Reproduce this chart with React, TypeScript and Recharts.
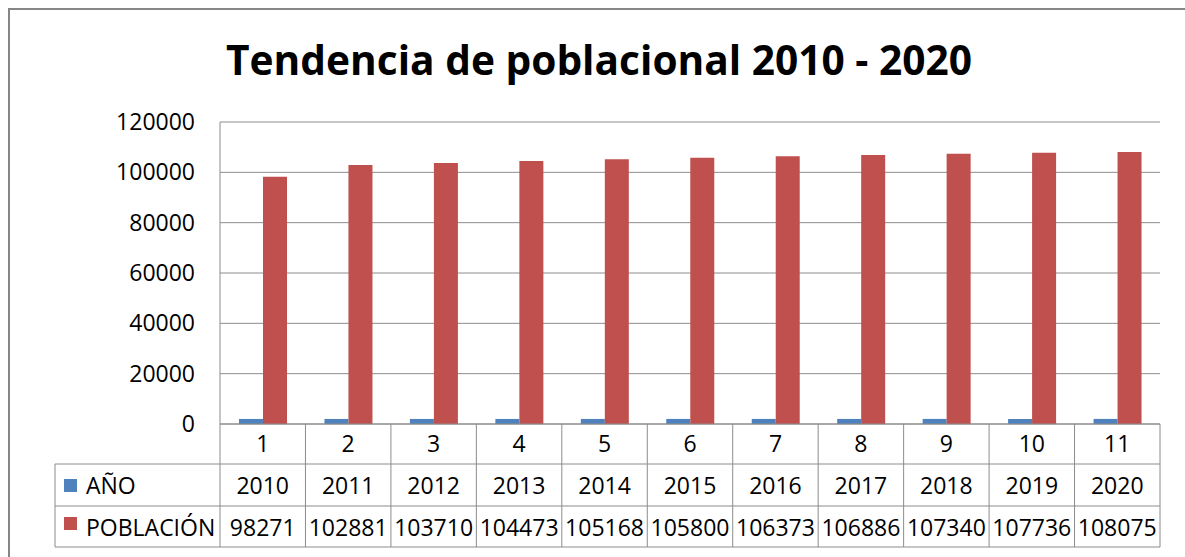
import React from 'react';
import { BarChart, Bar, XAxis, YAxis, CartesianGrid } from 'recharts';

const CATEGORIES = ['1', '2', '3', '4', '5', '6', '7', '8', '9', '10', '11'];
const ANO = [2010, 2011, 2012, 2013, 2014, 2015, 2016, 2017, 2018, 2019, 2020];
const POBLACION = [98271, 102881, 103710, 104473, 105168, 105800, 106373, 106886, 107340, 107736, 108075];
const Y_TICKS = [0, 20000, 40000, 60000, 80000, 100000, 120000];
const SERIES_NAMES = ['AÑO', 'POBLACIÓN'];
const TITLE = 'Tendencia de poblacional 2010 - 2020';

const data = CATEGORIES.map((c, i) => ({ cat: c, ano: ANO[i], pob: POBLACION[i] }));

const W = 1185;
const H = 557;
const M = { top: 122, right: 25, left: 0, bottom: 0 };
const Y_W = 220;
const X_H = 133;
const COL_W = (W - M.left - M.right - Y_W) / CATEGORIES.length;
const BLUE = '#4F81BD';
const RED = '#C0504D';
const LINE = '#8C8C8C';
const FONT = "'Open Sans', sans-serif";
const FS = 23;
const TABLE_LEFT = 55;
const ROW1 = 40;
const ROW2 = 82;
const ROW3 = 123;

const TableTick = (props: any) => {
  const { x, y, payload, index } = props;
  const i = index ?? payload.index;
  const left = x - COL_W / 2;
  const right = x + COL_W / 2;
  const tableRight = left + (CATEGORIES.length - i) * COL_W;
  return (
    <g>
      {i === 0 && (
        <g>
          <line x1={left} y1={y} x2={left} y2={y + ROW3} stroke={LINE} strokeWidth={1} />
          <line x1={TABLE_LEFT} y1={y + ROW1} x2={tableRight} y2={y + ROW1} stroke={LINE} strokeWidth={1} />
          <line x1={TABLE_LEFT} y1={y + ROW2} x2={tableRight} y2={y + ROW2} stroke={LINE} strokeWidth={1} />
          <line x1={TABLE_LEFT} y1={y + ROW3} x2={tableRight} y2={y + ROW3} stroke={LINE} strokeWidth={1} />
          <line x1={TABLE_LEFT} y1={y + ROW1} x2={TABLE_LEFT} y2={y + ROW3} stroke={LINE} strokeWidth={1} />
          <rect x={64} y={y + 55} width={13} height={13} fill={BLUE} />
          <text x={86} y={y + 70} fontFamily={FONT} fontSize={FS} fill="#000">{SERIES_NAMES[0]}</text>
          <rect x={64} y={y + 93} width={13} height={13} fill={RED} />
          <text x={86} y={y + 112} fontFamily={FONT} fontSize={FS} fill="#000">{SERIES_NAMES[1]}</text>
        </g>
      )}
      <line x1={right} y1={y} x2={right} y2={y + ROW3} stroke={LINE} strokeWidth={1} />
      <text x={x} y={y + 28} textAnchor="middle" fontFamily={FONT} fontSize={FS} fill="#000">{payload.value}</text>
      <text x={x} y={y + 70} textAnchor="middle" fontFamily={FONT} fontSize={FS} fill="#000">{ANO[i]}</text>
      <text x={x} y={y + 112} textAnchor="middle" fontFamily={FONT} fontSize={FS} fill="#000">{POBLACION[i]}</text>
    </g>
  );
};

export default function App() {
  return (
    <div style={{ position: 'fixed', left: 0, top: 0, width: W, height: H, overflow: 'hidden', background: '#fff' }}>
      <div style={{ position: 'absolute', left: 8, top: 8, width: 1300, height: 700, borderTop: '2px solid #868686', borderLeft: '2px solid #868686' }} />
      <div style={{ position: 'absolute', left: 0, top: 0 }}>
        <BarChart width={W} height={H} data={data} margin={M} barGap={0}>
          <CartesianGrid vertical={false} stroke={LINE} strokeWidth={1} />
          <XAxis
            dataKey="cat"
            height={X_H}
            interval={0}
            tickLine={false}
            tickSize={0}
            tickMargin={0}
            axisLine={{ stroke: LINE, strokeWidth: 1 }}
            tick={(p: any) => <TableTick {...p} />}
          />
          <YAxis
            width={Y_W}
            domain={[0, 120000]}
            ticks={Y_TICKS}
            interval={0}
            tickLine={false}
            tickSize={0}
            tickMargin={25}
            axisLine={{ stroke: LINE, strokeWidth: 1 }}
            tick={{ fontFamily: FONT, fontSize: FS, fill: '#000' }}
          />
          <Bar dataKey="ano" name={SERIES_NAMES[0]} fill={BLUE} barSize={24} isAnimationActive={false} />
          <Bar dataKey="pob" name={SERIES_NAMES[1]} fill={RED} barSize={24} isAnimationActive={false} />
        </BarChart>
      </div>
      <svg style={{ position: 'absolute', left: 0, top: 0 }} width={W} height={110}>
        <text x={599} y={75} textAnchor="middle" fontFamily={FONT} fontWeight="bold" fontSize={42} textLength={746} lengthAdjust="spacingAndGlyphs" fill="#000">{TITLE}</text>
      </svg>
    </div>
  );
}
